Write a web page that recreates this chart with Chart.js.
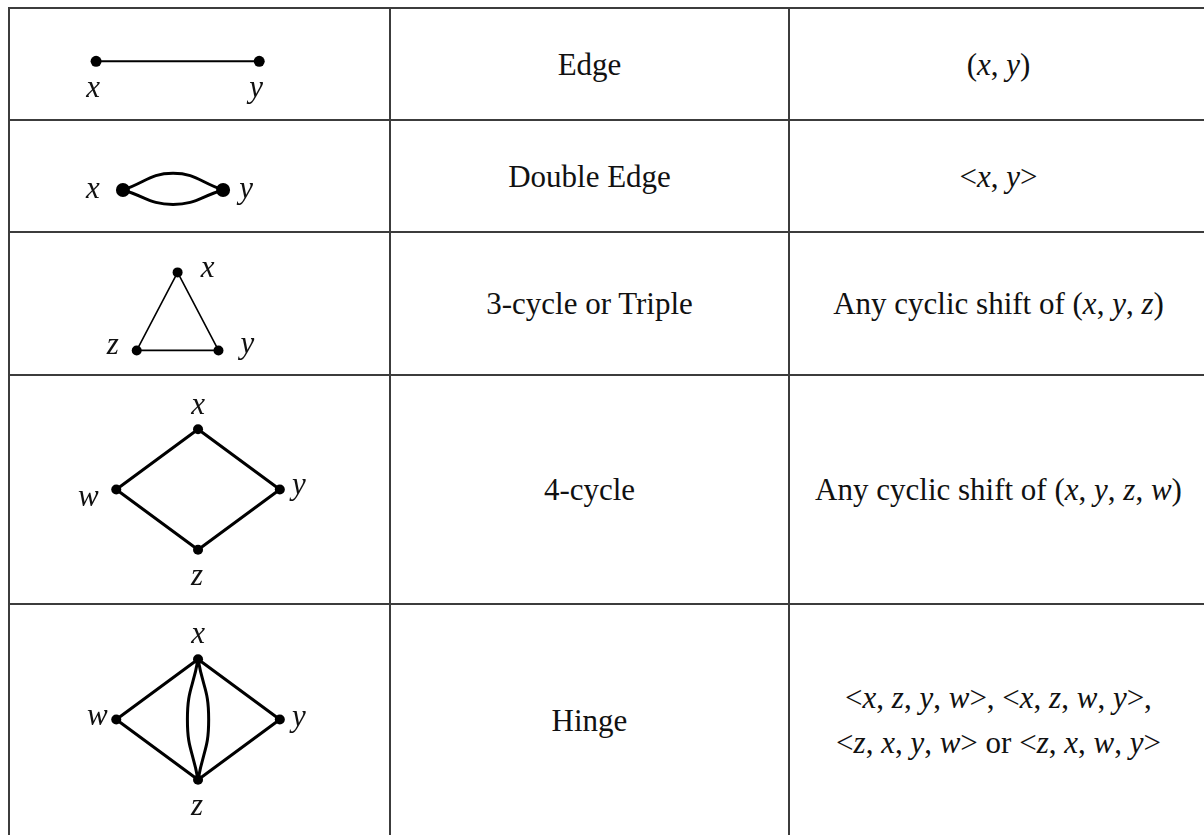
<!DOCTYPE html>
<html>
<head>
<meta charset="utf-8">
<script src="https://cdn.jsdelivr.net/npm/chart.js@4.4.1/dist/chart.umd.min.js"></script>
<style>
    html, body { margin: 0; padding: 0; background: #fff; }
    #sheet { position: relative; width: 1204px; height: 835px; overflow: hidden; background: #fff;
             font-family: "Liberation Serif", "Times New Roman", serif; color: #111; }
    .hline { position: absolute; left: 8px; width: 1210px; height: 2px; background: #3c3c3c; }
    .vline { position: absolute; top: 7px; height: 840px; width: 2px; background: #3c3c3c; }
    .cell { position: absolute; display: flex; align-items: center; justify-content: center;
            text-align: center; font-size: 31px; line-height: 45px; }
    .cell span { display: block; white-space: nowrap; }
    canvas.graph { position: absolute; }
</style>
</head>
<body>
<div id="sheet"></div>
<script>
// table text
const typeNames = ['Edge', 'Double Edge', '3-cycle or Triple', '4-cycle', 'Hinge'];
const notations = [
    '(<i>x</i>, <i>y</i>)',
    '&lt;<i>x</i>, <i>y</i>&gt;',
    'Any cyclic shift of (<i>x</i>, <i>y</i>, <i>z</i>)',
    'Any cyclic shift of (<i>x</i>, <i>y</i>, <i>z</i>, <i>w</i>)',
    '&lt;<i>x</i>, <i>z</i>, <i>y</i>, <i>w</i>&gt;, &lt;<i>x</i>, <i>z</i>, <i>w</i>, <i>y</i>&gt;,<br>' +
    '&lt;<i>z</i>, <i>x</i>, <i>y</i>, <i>w</i>&gt; or &lt;<i>z</i>, <i>x</i>, <i>w</i>, <i>y</i>&gt;'
];

// Edge
const edgeNodes = ['x', 'y'];
const edgeNodeX = [-1, 1];
const edgeNodeY = [0, 0];
const edgeLinks = [['x', 'y']];
const edgeBends = [];

// Double edge (two bent links through a bend point)
const doubleNodes = ['x', 'y'];
const doubleNodeX = [-1, 1];
const doubleNodeY = [0, 0];
const doubleLinks = [];
const doubleBends = [['x', 'y', 0, 0.37], ['x', 'y', 0, -0.32]];

// 3-cycle
const tripleNodes = ['x', 'y', 'z'];
const tripleNodeX = [0, 1, -1];
const tripleNodeY = [1, -1, -1];
const tripleLinks = [['x', 'y'], ['y', 'z'], ['z', 'x']];
const tripleBends = [];

// 4-cycle
const cycleNodes = ['x', 'y', 'z', 'w'];
const cycleNodeX = [0, 2, 0, -2];
const cycleNodeY = [1.5, 0, -1.5, 0];
const cycleLinks = [['x', 'y'], ['y', 'z'], ['z', 'w'], ['w', 'x']];
const cycleBends = [];

// Hinge
const hingeNodes = ['x', 'y', 'z', 'w'];
const hingeNodeX = [0, 2, 0, -2];
const hingeNodeY = [1.5, 0, -1.5, 0];
const hingeLinks = [['x', 'y'], ['y', 'z'], ['z', 'w'], ['w', 'x']];
const hingeBends = [['x', 'z', 0.26, 0], ['x', 'z', -0.26, 0]];

// page layout
const rowLines = [8, 120, 232, 375, 604, 836];
const colLines = [9, 390, 789, 1208];

const graphs = [
    { nodes: edgeNodes, xs: edgeNodeX, ys: edgeNodeY, links: edgeLinks, bends: edgeBends,
      center: [177, 61], ppu: 84, lineWidth: 2, radius: 5.5, tension: 0.4,
      labelOffsets: { x: [-3, 36], y: [-3, 36] } },
    { nodes: doubleNodes, xs: doubleNodeX, ys: doubleNodeY, links: doubleLinks, bends: doubleBends,
      center: [172, 192], ppu: 52, lineWidth: 3, radius: 7, tension: 0.45,
      labelOffsets: { x: [-30, 8], y: [23, 8] } },
    { nodes: tripleNodes, xs: tripleNodeX, ys: tripleNodeY, links: tripleLinks, bends: tripleBends,
      center: [177, 312], ppu: 42, lineWidth: 1.6, radius: 5, tension: 0.4,
      labelOffsets: { x: [30, 5], y: [29, 3], z: [-24, 4] } },
    { nodes: cycleNodes, xs: cycleNodeX, ys: cycleNodeY, links: cycleLinks, bends: cycleBends,
      center: [198, 489.5], ppu: 42, lineWidth: 3, radius: 5, tension: 0.4,
      labelOffsets: { x: [0, -15], y: [19, 4], z: [-1, 35], w: [-28, 16] } },
    { nodes: hingeNodes, xs: hingeNodeX, ys: hingeNodeY, links: hingeLinks, bends: hingeBends,
      center: [198, 719.5], ppu: 42, lineWidth: 3, radius: 5, tension: 0.5,
      labelOffsets: { x: [0, -16], y: [19, 6], z: [-1, 35], w: [-19, 5] } },
];

const sheet = document.getElementById('sheet');
const addDiv = (cls, css, html) => {
    const d = document.createElement('div');
    d.className = cls;
    Object.assign(d.style, css);
    if (html) d.innerHTML = '<span>' + html + '</span>';
    sheet.appendChild(d);
    return d;
};

rowLines.forEach(y => addDiv('hline', { top: (y - 1) + 'px' }));
colLines.forEach(x => addDiv('vline', { left: (x - 1) + 'px' }));

typeNames.forEach((name, i) => {
    const top = rowLines[i] + 1, h = rowLines[i + 1] - rowLines[i] - 2;
    addDiv('cell', { left: (colLines[1] + 1) + 'px', width: (colLines[2] - colLines[1] - 2) + 'px', top: top + 'px', height: h + 'px' }, name);
    addDiv('cell', { left: (colLines[2] + 1) + 'px', width: (colLines[3] - colLines[2] - 2) + 'px', top: top + 'px', height: h + 'px' }, notations[i]);
});

const nodeLabels = {
    id: 'nodeLabels',
    afterDatasetsDraw(chart) {
        const g = chart.options.plugins.nodeLabels.graph;
        const ctx = chart.ctx;
        ctx.save();
        ctx.font = 'italic 31px "Liberation Serif", "Times New Roman", serif';
        ctx.fillStyle = '#111';
        ctx.textAlign = 'center';
        ctx.textBaseline = 'alphabetic';
        g.nodes.forEach((n, i) => {
            const off = g.labelOffsets[n];
            const px = chart.scales.x.getPixelForValue(g.xs[i]);
            const py = chart.scales.y.getPixelForValue(g.ys[i]);
            ctx.fillText(n, px + off[0], py + off[1]);
        });
        ctx.restore();
    }
};

graphs.forEach((g, i) => {
    const left = colLines[0] + 1, w = colLines[1] - colLines[0] - 2;
    const top = rowLines[i] + 1, h = rowLines[i + 1] - rowLines[i] - 2;
    const canvas = document.createElement('canvas');
    canvas.className = 'graph';
    canvas.width = w; canvas.height = h;
    Object.assign(canvas.style, { left: left + 'px', top: top + 'px', width: w + 'px', height: h + 'px' });
    sheet.appendChild(canvas);

    const pt = name => { const k = g.nodes.indexOf(name); return { x: g.xs[k], y: g.ys[k] }; };
    const lineStyle = { showLine: true, borderColor: '#000', borderWidth: g.lineWidth, pointRadius: 0,
                        borderCapStyle: 'round', borderJoinStyle: 'round', order: 1 };
    const datasets = [
        { data: g.nodes.map(pt), pointRadius: g.radius, pointBackgroundColor: '#000',
          pointBorderWidth: 0, showLine: false, order: 0 },
        ...g.links.map(([a, b]) => ({ ...lineStyle, data: [pt(a), pt(b)] })),
        ...g.bends.map(([a, b, bx, by]) => ({ ...lineStyle, tension: g.tension, data: [pt(a), { x: bx, y: by }, pt(b)] })),
    ];

    const cx = g.center[0] - left, cy = g.center[1] - top;
    new Chart(canvas, {
        type: 'scatter',
        data: { datasets },
        options: {
            responsive: false, animation: false, events: [],
            layout: { padding: 0 },
            plugins: { legend: { display: false }, tooltip: { enabled: false }, nodeLabels: { graph: g } },
            scales: {
                x: { type: 'linear', display: false, min: -cx / g.ppu, max: (w - cx) / g.ppu },
                y: { type: 'linear', display: false, min: -(h - cy) / g.ppu, max: cy / g.ppu },
            }
        },
        plugins: [nodeLabels]
    });
});
</script>
</body>
</html>
